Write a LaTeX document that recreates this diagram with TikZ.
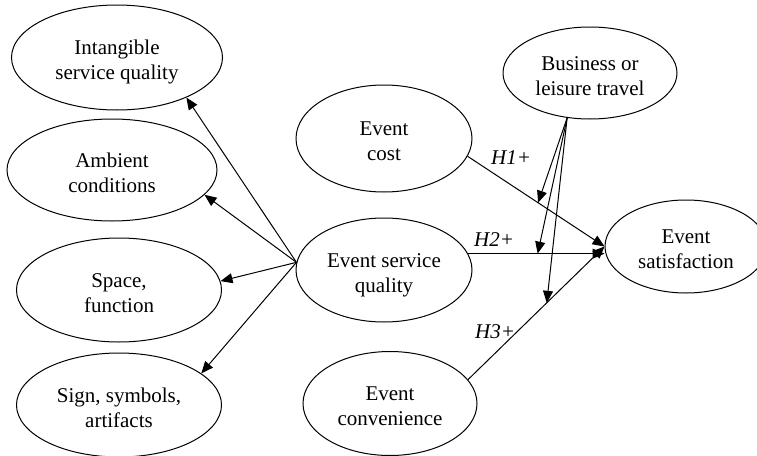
\documentclass[tikz,border=0pt]{standalone}
\usepackage{fontspec}
\setmainfont{Liberation Serif}
\usetikzlibrary{arrows.meta,shapes.geometric}
% line struts: a taller one for the first line sets the text a little low
\newcommand{\lnfirst}{\rule[-4.5pt]{0pt}{28.7pt}}
\newcommand{\lnst}{\rule[-4.5pt]{0pt}{18.7pt}}
\begin{document}
\begin{tikzpicture}[x=1pt,y=-1pt,
  every node/.style={font=\fontsize{21}{25}\selectfont},
  oval/.style={ellipse,draw,line width=1pt,inner sep=0pt,align=center},
  arr/.style={line width=1pt,-{Triangle[length=12pt,width=10pt]}},
  hyp/.style={font=\fontsize{21}{25}\selectfont\itshape}]
\useasboundingbox (0,0) rectangle (757,455);

% construct dimensions of event service quality
\node[oval,minimum width=211pt,minimum height=105pt] (isq) at (117,57.5) {\lnfirst Intangible\\\lnst service quality};
\node[oval,minimum width=210pt,minimum height=102pt] (amb) at (112,170) {\lnfirst Ambient\\\lnst conditions};
\node[oval,minimum width=205pt,minimum height=104pt] (spf) at (119,290) {\lnfirst Space,\\\lnst function};
\node[oval,minimum width=205pt,minimum height=104pt] (sgn) at (119,405) {\lnfirst Sign, symbols,\\\lnst artifacts};

% antecedents
\node[oval,minimum width=176pt,minimum height=107pt] (cost) at (384,138.5) {\lnfirst Event\\\lnst cost};
\node[oval,minimum width=176pt,minimum height=104pt] (sq) at (384,270) {\lnfirst Event service\\\lnst quality};
\node[oval,minimum width=174pt,minimum height=104pt] (conv) at (390,403.5) {\lnfirst Event\\\lnst convenience};

% moderator and outcome
\node[oval,minimum width=174pt,minimum height=92pt] (bus) at (590,73) {\lnfirst Business or\\\lnst leisure travel};
\node[oval,minimum width=162pt,minimum height=93pt] (sat) at (686,246.5) {\lnfirst Event\\\lnst satisfaction};

% service quality dimensions
\draw[arr] (sq.175) -- (isq.-30);
\draw[arr] (sq.175) -- (amb.-15);
\draw[arr] (sq.175) -- (spf.5);
\draw[arr] (sq.175) -- (sgn.21);

% hypothesised paths
\draw[arr] (cost.-12) -- coordinate[pos=.515] (m1) (sat.west);
\draw[arr] (sq.11.5) -- coordinate[pos=.51] (m2) (sq.11.5 -| sat.west);
\draw[arr] (conv.17) -- coordinate[pos=.577] (m3) (sat.west);

\node[hyp] (h1) at (511,158) {H1+};
\node[hyp] (h2) at (494,240) {H2+};
\node[hyp] (h3) at (495,332) {H3+};

% moderating effects
\draw[arr] (bus.-117) -- (m1);
\draw[arr] (bus.-117) -- (m2);
\draw[arr] (bus.-117) -- (m3);
\end{tikzpicture}
\end{document}
